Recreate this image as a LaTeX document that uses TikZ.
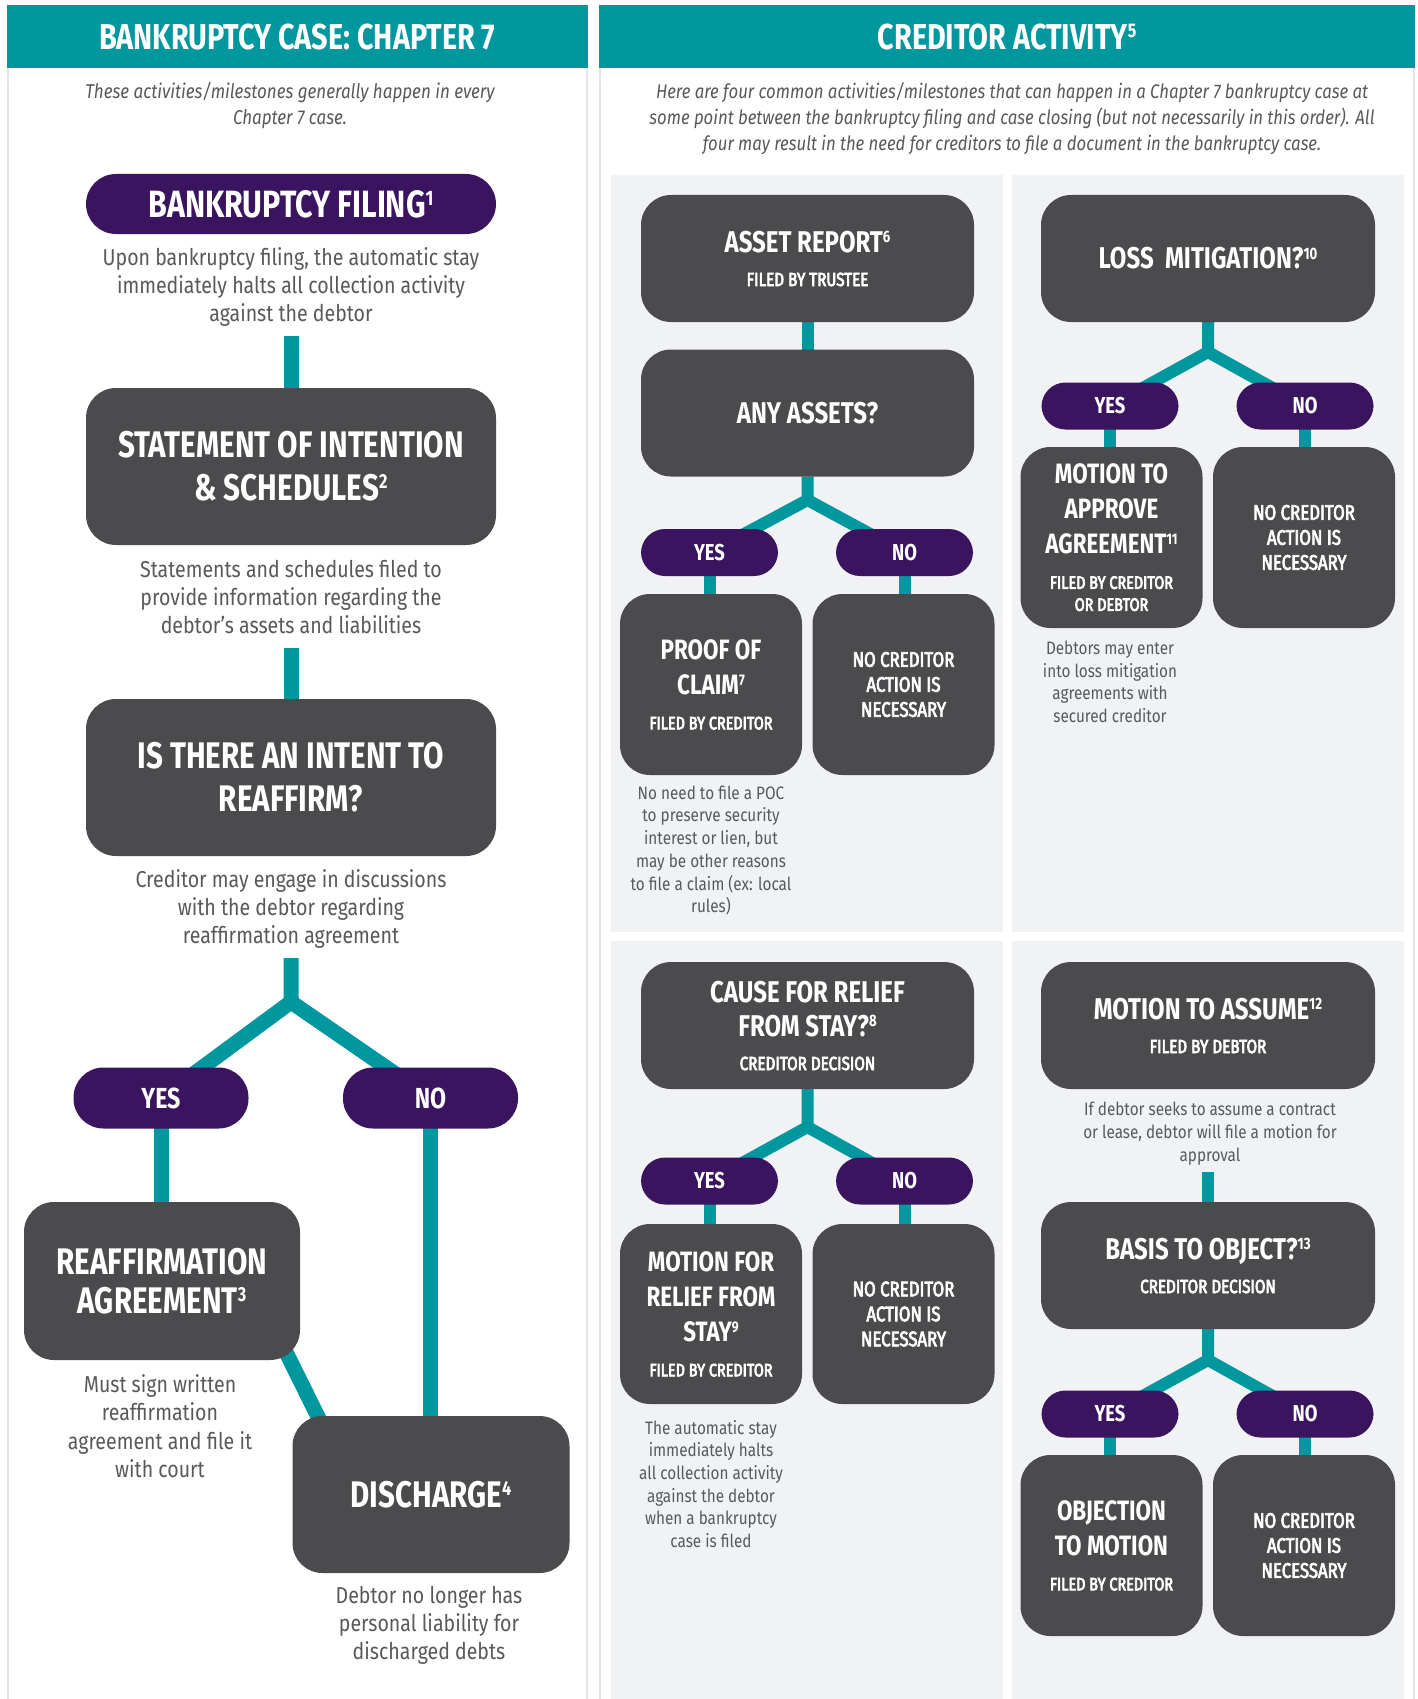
\documentclass[tikz,border=0pt]{standalone}
\usepackage{fontspec}
\setmainfont{Fira Sans}
\newfontfamily\hdf[FakeStretch=0.8]{Fira Sans}
\newfontfamily\mdf[FakeStretch=0.8]{Fira Sans}
\newfontfamily\bdf[FakeStretch=0.85]{Fira Sans}
\usetikzlibrary{calc}
\definecolor{tealc}{HTML}{00979F}
\definecolor{purp}{HTML}{3A145E}
\definecolor{boxg}{HTML}{4B4B4D}
\definecolor{panelg}{HTML}{F1F2F4}
\definecolor{txtg}{HTML}{58595B}
\definecolor{bordg}{HTML}{E2E3E5}
\pgfdeclarelayer{panels}
\pgfdeclarelayer{links}
\pgfsetlayers{panels,links,main}
\newcommand\sups[1]{\raisebox{0.32em}{\scalebox{0.55}{#1}}}
\newcommand\fs[2]{\fontsize{#1}{#2}\selectfont}
\newcommand\subl{\mdf\mdseries\upshape\special{pdf:literal direct 2 Tr 0.7 w}}
\begin{document}
\begin{tikzpicture}[x=1pt,y=-1pt,
  every node/.style={inner sep=0pt, outer sep=0pt},
  dbox/.style={fill=boxg, rounded corners=30pt, text=white, align=center, execute at end node={\special{pdf:literal direct 0 Tr}}},
  pillL/.style={fill=purp, rounded corners=30pt, text=white, align=center, minimum width=175pt, minimum height=61pt, font=\hdf\bfseries\fs{29}{34}},
  pillR/.style={fill=purp, rounded corners=24pt, text=white, align=center, minimum width=137pt, minimum height=47pt, font=\hdf\bfseries\fs{23}{28}},
  bigL/.style={dbox, minimum width=410pt, minimum height=157pt, font=\hdf\bfseries\fs{37}{43}},
  wideR/.style={dbox, minimum width=333pt, minimum height=127pt, font=\hdf\bfseries\fs{30}{34}},
  smallR/.style={dbox, minimum width=182pt, minimum height=181pt, font=\hdf\bfseries\fs{28}{35}},
  ncbox/.style={dbox, minimum width=182pt, minimum height=181pt, font=\subl\fs{21}{25}},
  noteL/.style={text=txtg, align=center, font=\bdf\fs{23}{28}},
  noteR/.style={text=txtg, align=center, font=\bdf\fs{18}{22.7}},
  intro/.style={text=txtg, align=center, font=\bdf\itshape\fs{20}{26}},
  hdr/.style={fill=tealc, text=white, font=\hdf\bfseries\fs{36}{40}, minimum height=62.6pt},
  linkL/.style={draw=tealc, line width=15pt},
  linkR/.style={draw=tealc, line width=12pt},
]
\useasboundingbox (0,0) rectangle (1418,1699);
\begin{pgfonlayer}{panels}
\fill[white] (0,0) rectangle (1418,1699);
\draw[bordg, line width=2pt] (7.5,68) -- (7.5,1699) (587,68) -- (587,1699);
\draw[bordg, line width=2pt] (600,68) -- (600,1699) (1414,68) -- (1414,1699);
\fill[panelg] (611,175.5) rectangle (1003,932);
\fill[panelg] (1012,175.5) rectangle (1404,932);
\fill[panelg] (611,941.4) rectangle (1003,1699);
\fill[panelg] (1012,941.4) rectangle (1404,1699);
\end{pgfonlayer}

% headers
\node[hdr, minimum width=581.5pt] (hdrL) at (297.25,36.7) {BANKRUPTCY CASE: CHAPTER 7};
\node[hdr, minimum width=816pt] (hdrR) at (1007,36.7) {CREDITOR ACTIVITY\sups{5}};
\node[intro] (introL) at (290,106) {These activities/milestones generally happen in every\\Chapter 7 case.};
\node[intro, font=\bdf\itshape\fs{19.7}{26}] (introR) at (1012,119) {Here are four common activities/milestones that can happen in a Chapter 7 bankruptcy case at\\some point between the bankruptcy filing and case closing (but not necessarily in this order). All\\four may result in the need for creditors to file a document in the bankruptcy case.};

% left column
\node[fill=purp, rounded corners=30pt, text=white, minimum width=410pt, minimum height=60pt, font=\hdf\bfseries\fs{38}{44}] (filing) at (291,204) {BANKRUPTCY FILING\sups{1}};
\node[noteL] (filingnote) at (291,287) {Upon bankruptcy filing, the automatic stay\\immediately halts all collection activity\\against the debtor};
\node[bigL] (stmt) at (291,466.5) {STATEMENT OF INTENTION\\\& SCHEDULES\sups{2}};
\node[noteL] (stmtnote) at (291,597) {Statements and schedules filed to\\provide information regarding the\\debtor’s assets and liabilities};
\node[bigL] (intent) at (291,777.5) {IS THERE AN INTENT TO\\REAFFIRM?};
\node[noteL] (intentnote) at (291,909) {Creditor may engage in discussions\\with the debtor regarding\\reaffirmation agreement};
\node[pillL] (yesL) at (161,1098) {YES};
\node[pillL] (noL) at (430.5,1098) {NO};
\node[dbox, minimum width=276pt, minimum height=158pt, font=\hdf\bfseries\fs{37}{39}] (reaff) at (162,1281) {REAFFIRMATION\\AGREEMENT\sups{3}};
\node[noteL, font=\bdf\fs{23}{28.5}] (reaffnote) at (160,1426) {Must sign written\\reaffirmation\\agreement and file it\\with court};
\node[dbox, minimum width=277pt, minimum height=157pt, font=\hdf\bfseries\fs{37}{43}] (disch) at (431,1494.5) {DISCHARGE\sups{4}};
\node[noteL] (dischnote) at (429,1625) {Debtor no longer has\\personal liability for\\discharged debts};

\coordinate (c1) at (291,336);
\coordinate (c2) at (291,648);
\coordinate (c3) at (291,958);
\coordinate (forkL) at (291,1002);

% right column: asset report
\node[wideR] (asset) at (807.5,258.5) {ASSET REPORT\sups{6}\\\subl\fs{19}{22}FILED BY TRUSTEE};
\node[wideR] (anyassets) at (807.5,413) {ANY ASSETS?};
\coordinate (forkA) at (807.5,500);
\node[pillR] (yes1) at (709.5,552.5) {YES};
\node[pillR] (no1) at (904.5,552.5) {NO};
\node[smallR] (poc) at (711,684.5) {PROOF OF\\CLAIM\sups{7}\\\subl\fs{18}{22}FILED BY CREDITOR};
\node[ncbox] (nc1) at (903.5,684.5) {NO CREDITOR\\ACTION IS\\NECESSARY};
\node[noteR] (pocnote) at (711,850.5) {No need to file a POC\\to preserve security\\interest or lien, but\\may be other reasons\\to file a claim (ex: local\\rules)};

% loss mitigation
\node[wideR, minimum width=334pt] (loss) at (1208,258.5) {LOSS\ \ MITIGATION?\sups{10}};
\coordinate (forkB) at (1208,352);
\node[pillR] (yes2) at (1110,406) {YES};
\node[pillR] (no2) at (1305,406) {NO};
\node[smallR] (mta) at (1111.5,537.5) {MOTION TO\\APPROVE\\AGREEMENT\sups{11}\\\subl\fs{18}{22}FILED BY CREDITOR\\[-13pt]\subl\fs{18}{22}OR DEBTOR};
\node[ncbox] (nc2) at (1304,537.5) {NO CREDITOR\\ACTION IS\\NECESSARY};
\node[noteR] (mtanote) at (1110,682) {Debtors may enter\\into loss mitigation\\agreements with\\secured creditor};

% relief from stay
\node[wideR] (cause) at (807.5,1025.5) {CAUSE FOR RELIEF\\FROM STAY?\sups{8}\\\subl\fs{19}{22}CREDITOR DECISION};
\coordinate (forkC) at (807.5,1127);
\node[pillR] (yes3) at (709.5,1181) {YES};
\node[pillR] (no3) at (904.5,1181) {NO};
\node[smallR, minimum height=180pt] (mfr) at (711,1314) {MOTION FOR\\RELIEF FROM\\STAY\sups{9}\\\subl\fs{18}{22}FILED BY CREDITOR};
\node[ncbox, minimum height=180pt] (nc3) at (903.5,1314) {NO CREDITOR\\ACTION IS\\NECESSARY};
\node[noteR] (mfrnote) at (711,1484) {The automatic stay\\immediately halts\\all collection activity\\against the debtor\\when a bankruptcy\\case is filed};

% motion to assume
\node[wideR, minimum width=334pt] (assume) at (1208,1025.5) {MOTION TO ASSUME\sups{12}\\\subl\fs{19}{22}FILED BY DEBTOR};
\node[noteR] (assumenote) at (1210,1133.5) {If debtor seeks to assume a contract\\or lease, debtor will file a motion for\\approval};
\coordinate (c4) at (1208,1172);
\node[wideR, minimum width=334pt] (basis) at (1208,1265.5) {BASIS TO OBJECT?\sups{13}\\\subl\fs{19}{22}CREDITOR DECISION};
\coordinate (forkD) at (1208,1360);
\node[pillR] (yes4) at (1110,1414) {YES};
\node[pillR] (no4) at (1305,1414) {NO};
\node[smallR] (obj) at (1111.5,1545.5) {OBJECTION\\TO MOTION\\\subl\fs{18}{22}FILED BY CREDITOR};
\node[ncbox] (nc4) at (1304,1545.5) {NO CREDITOR\\ACTION IS\\NECESSARY};

\begin{pgfonlayer}{links}
\draw[linkL] (c1) -- (stmt.north);
\draw[linkL] (c2) -- (intent.north);
\draw[linkL] (c3) -- (forkL) -- (yesL.center);
\draw[linkL] (forkL) -- (noL.center);
\draw[linkL] (yesL.center) -- (yesL |- reaff.north);
\draw[linkL] (noL.center) -- (noL |- disch.north);
\draw[linkL] ($(reaff.south east)+(-20,-20)$) -- ($(disch.north west)+(40,30)$);
\draw[linkR] (asset.south) -- (anyassets.north);
\draw[linkR] (anyassets.south) -- (forkA) -- (yes1.center);
\draw[linkR] (forkA) -- (no1.center);
\draw[linkR] (yes1.center) -- (yes1 |- poc.north);
\draw[linkR] (no1.center) -- (no1 |- nc1.north);
\draw[linkR] (loss.south) -- (forkB) -- (yes2.center);
\draw[linkR] (forkB) -- (no2.center);
\draw[linkR] (yes2.center) -- (yes2 |- mta.north);
\draw[linkR] (no2.center) -- (no2 |- nc2.north);
\draw[linkR] (cause.south) -- (forkC) -- (yes3.center);
\draw[linkR] (forkC) -- (no3.center);
\draw[linkR] (yes3.center) -- (yes3 |- mfr.north);
\draw[linkR] (no3.center) -- (no3 |- nc3.north);
\draw[linkR] (c4) -- (basis.north);
\draw[linkR] (basis.south) -- (forkD) -- (yes4.center);
\draw[linkR] (forkD) -- (no4.center);
\draw[linkR] (yes4.center) -- (yes4 |- obj.north);
\draw[linkR] (no4.center) -- (no4 |- nc4.north);
\end{pgfonlayer}
\end{tikzpicture}
\end{document}
